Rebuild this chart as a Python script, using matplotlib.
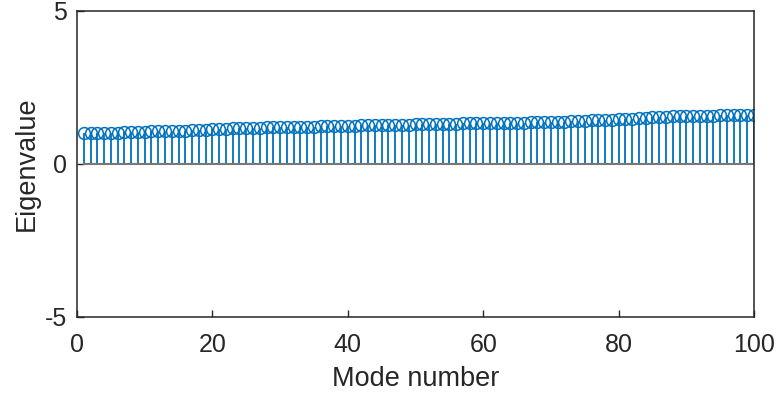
import matplotlib
matplotlib.use('agg')
import matplotlib.pyplot as plt
import numpy as np

# eigenvalue for each mode
mode_number = list(range(1, 101))
eigenvalues = [
    1.00, 1.00, 1.01, 1.01, 1.02, 1.02, 1.03, 1.04, 1.04, 1.05,
    1.06, 1.06, 1.07, 1.08, 1.08, 1.09, 1.10, 1.11, 1.12, 1.13,
    1.14, 1.15, 1.16, 1.16, 1.17, 1.18, 1.18, 1.19, 1.19, 1.20,
    1.20, 1.21, 1.21, 1.22, 1.22, 1.23, 1.23, 1.24, 1.24, 1.25,
    1.25, 1.26, 1.26, 1.26, 1.27, 1.27, 1.28, 1.28, 1.28, 1.29,
    1.29, 1.30, 1.30, 1.30, 1.31, 1.31, 1.32, 1.32, 1.32, 1.33,
    1.33, 1.34, 1.34, 1.34, 1.35, 1.35, 1.36, 1.36, 1.37, 1.37,
    1.38, 1.38, 1.39, 1.40, 1.41, 1.42, 1.43, 1.44, 1.45, 1.46,
    1.47, 1.48, 1.50, 1.51, 1.52, 1.53, 1.54, 1.55, 1.56, 1.56,
    1.57, 1.57, 1.58, 1.58, 1.59, 1.59, 1.60, 1.60, 1.61, 1.61,
]
x_ticks = [0, 20, 40, 60, 80, 100]
y_ticks = [-5, 0, 5]

plt.rcParams['font.family'] = ['Liberation Sans', 'DejaVu Sans']
plt.rcParams['axes.unicode_minus'] = False

axis_color = '#262626'
stem_color = '#0072BD'

fig = plt.figure(figsize=(7.77, 3.95), dpi=100)
ax = fig.add_axes([0.0991, 0.1982, 0.8713, 0.774])

markerline, stemlines, baseline = ax.stem(mode_number, eigenvalues)
plt.setp(stemlines, color=stem_color, linewidth=1.3)
plt.setp(markerline, marker='o', markersize=8.5, markerfacecolor='none',
         markeredgecolor=stem_color, markeredgewidth=1.1)
plt.setp(baseline, color='#777777', linewidth=1.5)

ax.set_xlim(0, 100)
ax.set_ylim(-5, 5)
ax.set_xticks(x_ticks)
ax.set_yticks(y_ticks)

for spine in ax.spines.values():
    spine.set_color(axis_color)
    spine.set_linewidth(1.1)
ax.tick_params(direction='in', length=5, width=1.0, colors=axis_color,
               labelsize=18)
ax.tick_params(axis='x', pad=12)
ax.tick_params(axis='y', pad=7)
for lbl in ax.get_xticklabels() + ax.get_yticklabels():
    lbl.set_color(axis_color)

ax.set_xlabel('Mode number', fontsize=19.5, color=axis_color, labelpad=6)
ax.set_ylabel('Eigenvalue', fontsize=19.5, color=axis_color, labelpad=4)

fig.savefig('out.png', dpi=100)
